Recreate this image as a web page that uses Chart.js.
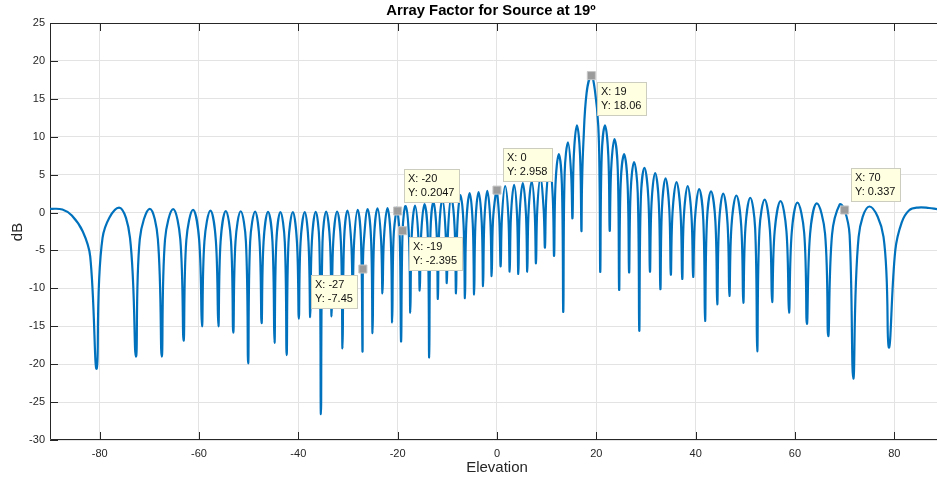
<!DOCTYPE html>
<html>
<head>
<meta charset="utf-8">
<title>Array Factor for Source at 19º</title>
<script src="https://cdn.jsdelivr.net/npm/chart.js@4.4.1/dist/chart.umd.min.js"></script>
<style>
  html, body { margin: 0; padding: 0; background: #fff; }
  #wrap { width: 937px; height: 482px; }
</style>
</head>
<body>
<div id="wrap"><canvas id="afChart" width="937" height="482"></canvas></div>
<script>
// axis ticks
const xTicks = [-80, -60, -40, -20, 0, 20, 40, 60, 80];
const yTicks = [-30, -25, -20, -15, -10, -5, 0, 5, 10, 15, 20, 25];

// array factor trace, elevation in degrees and level in dB
// (one row per lobe: null, rising knee, peak, falling knee)
const elevation = [
  -90, -87.5, -85.6, -83.4, -81.9,
  -80.6, -79.42, -76.1, -73.89,
  -72.7, -71.92, -69.9, -68.28,
  -67.5, -66.84, -65.2, -63.76,
  -63.1, -62.55, -61.2, -59.96,
  -59.4, -58.9, -57.7, -56.6,
  -56.1, -55.65, -54.6, -53.55,
  -53.1, -52.65, -51.6, -50.55,
  -50.1, -49.7, -48.7, -47.8,
  -47.4, -47.0, -46.1, -45.2,
  -44.8, -44.43, -43.6, -42.72,
  -42.35, -41.98, -41.1, -40.27,
  -39.9, -39.55, -38.7, -37.95,
  -37.6, -37.28, -36.5, -35.77,
  -35.45, -35.13, -34.4, -33.62,
  -33.3, -32.97, -32.2, -31.43,
  -31.1, -30.79, -30.1, -29.36,
  -29.05, -28.75, -28.05, -27.38,
  -27.08, -27, -26.78, -26.05, -25.35,
  -25.05, -24.75, -24.05, -23.35,
  -23.05, -22.76, -22.05, -21.39,
  -21.1, -20.83, -20.2, -20, -19.57,
  -19.3, -19, -18.4, -17.73,
  -17.45, -17.17, -16.5, -15.84,
  -15.55, -15.27, -14.6, -13.94,
  -13.65, -13.39, -12.8, -12.16,
  -11.9, -11.63, -11.0, -10.37,
  -10.1, -9.82, -9.2, -8.53,
  -8.25, -7.98, -7.35, -6.72,
  -6.45, -6.17, -5.5, -4.88,
  -4.6, -4.33, -3.7, -3.07,
  -2.8, -2.54, -1.95, -1.33,
  -1.07, -0.8, -0.15, 0, 0.47,
  0.74, 1.01, 1.65, 2.29,
  2.56, 2.82, 3.45, 4.04,
  4.3, 4.57, 5.2, 5.83,
  6.1, 6.36, 7.0, 7.59,
  7.85, 8.12, 8.75, 9.39,
  9.66, 9.94, 10.6, 11.22,
  11.5, 11.78, 12.45, 13.07,
  13.35, 13.63, 14.3, 14.92,
  15.2, 15.47, 16.1, 16.73,
  17.0, 17.12, 17.4, 18.05, 19, 19.7, 20.4, 20.66,
  20.8, 21.09, 21.75, 22.42,
  22.7, 22.99, 23.65, 24.32,
  24.6, 24.9, 25.6, 26.3,
  26.6, 26.91, 27.6, 28.34,
  28.65, 28.97, 29.7, 30.48,
  30.8, 31.12, 31.85, 32.59,
  32.9, 33.22, 33.95, 34.69,
  35.0, 35.35, 36.15, 36.96,
  37.3, 37.63, 38.4, 39.17,
  39.5, 39.86, 40.7, 41.54,
  41.9, 42.27, 43.1, 43.98,
  44.35, 44.72, 45.55, 46.43,
  46.8, 47.22, 48.2, 49.18,
  49.6, 50.02, 51.0, 51.98,
  52.4, 52.85, 53.9, 54.95,
  55.4, 55.91, 57.1, 58.29,
  58.8, 59.34, 60.5, 61.86,
  62.4, 63.05, 64.4, 66.06,
  66.7, 67.46, 69.0, 70, 71.0,
  71.75, 72.82, 75.0, 77.83,
  78.9, 80.2, 81.5, 83.0, 84.8, 87.0, 88.6
];
const levelDb = [
  0.5, 0.4, -0.4, -2.5, -5.8,
  -20.6, -3.34, 0.66, -3.34,
  -19.0, -3.51, 0.49, -3.51,
  -19.0, -3.56, 0.44, -3.56,
  -16.9, -3.65, 0.35, -3.65,
  -15.0, -3.74, 0.26, -3.74,
  -15.0, -3.8, 0.2, -3.8,
  -15.85, -3.83, 0.17, -3.83,
  -19.9, -3.87, 0.13, -3.87,
  -14.6, -3.9, 0.1, -3.9,
  -17.2, -3.94, 0.06, -3.94,
  -18.8, -3.95, 0.05, -3.95,
  -14.0, -3.95, 0.05, -3.95,
  -13.8, -3.91, 0.09, -3.91,
  -26.6, -3.88, 0.12, -3.88,
  -13.7, -3.86, 0.14, -3.86,
  -17.9, -3.75, 0.25, -3.75,
  -10.5, -3.65, 0.35, -3.65,
  -18.3, -7.45, -3.55, 0.45, -3.55,
  -15.9, -3.45, 0.55, -3.45,
  -10.65, -3.42, 0.58, -3.42,
  -14.5, -3.4, 0.6, 0.2047, -3.4,
  -17.0, -2.395, 0.85, -3.15,
  -13.2, -3.1, 0.9, -3.1,
  -10.3, -2.9, 1.1, -2.9,
  -19.1, -2.55, 1.45, -2.55,
  -11.4, -2.23, 1.77, -2.23,
  -9.3, -1.97, 2.03, -1.97,
  -10.65, -1.7, 2.3, -1.7,
  -11.3, -1.45, 2.55, -1.45,
  -10.8, -1.3, 2.7, -1.3,
  -9.7, -1.13, 2.87, -1.13,
  -8.4, -1.0, 3.0, 2.958, -1.0,
  -7.1, -0.5, 3.5, -0.5,
  -7.8, -0.34, 3.66, -0.34,
  -8.1, -0.1, 3.9, -0.1,
  -7.8, 0.1, 4.1, 0.1,
  -6.7, 0.5, 4.5, 0.5,
  -4.6, 2.2, 6.2, 2.2,
  -5.7, 3.7, 7.7, 3.7,
  -13.1, 5.25, 9.25, 5.25,
  -0.74, 7.5, 11.5, 7.5,
  -2.4, 3.5, 9.2, 15.8, 18.06, 16.2, 11.4, 4.0,
  -7.8, 7.5, 11.5, 7.5,
  -2.4, 5.7, 9.7, 5.7,
  -10.2, 3.7, 7.7, 3.7,
  -7.9, 2.65, 6.65, 2.65,
  -15.6, 1.9, 5.9, 1.9,
  -7.8, 1.2, 5.2, 1.2,
  -10.1, 0.5, 4.5, 0.5,
  -8.2, 0.0, 4.0, 0.0,
  -8.76, -0.5, 3.5, -0.5,
  -8.5, -0.9, 3.1, -0.9,
  -14.3, -1.2, 2.8, -1.2,
  -12.1, -1.5, 2.5, -1.5,
  -11.0, -1.75, 2.25, -1.75,
  -11.9, -2.05, 1.95, -2.05,
  -18.3, -2.3, 1.7, -2.3,
  -11.8, -2.5, 1.5, -2.5,
  -13.2, -2.7, 1.3, -2.7,
  -14.7, -2.8, 1.2, -2.8,
  -16.3, -2.95, 1.05, 0.337, -2.95,
  -21.9, -3.2, 0.8, -3.2,
  -17.8, -5.0, -1.3, 0.3, 0.66, 0.6, 0.45
];

// data tips
const tipElev = [-27, -20, -19, 0, 19, 70];
const tipDb = [-7.45, 0.2047, -2.395, 2.958, 18.06, 0.337];
const tipSide = ['sw', 'ne', 'se', 'ne', 'se', 'ne'];

const trace = elevation.map((x, i) => ({ x: x, y: levelDb[i] }));
const tips = tipElev.map((x, i) => ({ x: x, y: tipDb[i] }));

const axisColor = '#262626';
const fontFamily = '"Liberation Sans", Arial, Helvetica, sans-serif';
const tickLen = 8;

// box around the axes with inward tick marks
const axesBox = {
  id: 'axesBox',
  beforeDatasetsDraw(chart) {
    const { ctx, chartArea: a, scales: { x, y } } = chart;
    ctx.save();
    ctx.strokeStyle = axisColor;
    ctx.lineWidth = 1;
    ctx.beginPath();
    ctx.rect(a.left + 0.5, a.top + 0.5, a.right - a.left, a.bottom - a.top - 1);
    xTicks.forEach(v => {
      const px = Math.round(x.getPixelForValue(v)) + 0.5;
      ctx.moveTo(px, a.bottom);
      ctx.lineTo(px, a.bottom - tickLen);
      ctx.moveTo(px, a.top);
      ctx.lineTo(px, a.top + tickLen);
    });
    yTicks.forEach(v => {
      const py = Math.round(y.getPixelForValue(v)) + 0.5;
      ctx.moveTo(a.left, py);
      ctx.lineTo(a.left + tickLen, py);
    });
    ctx.stroke();
    ctx.restore();
  }
};

// yellow data tip boxes next to the gray markers
const dataTips = {
  id: 'dataTips',
  afterDatasetsDraw(chart) {
    const { ctx, scales: { x, y } } = chart;
    ctx.save();
    ctx.font = '11px ' + fontFamily;
    ctx.textBaseline = 'middle';
    tipElev.forEach((xv, i) => {
      const px = x.getPixelForValue(xv);
      const py = y.getPixelForValue(tipDb[i]);
      const lines = ['X: ' + xv, 'Y: ' + tipDb[i]];
      const w = Math.ceil(Math.max(...lines.map(t => ctx.measureText(t).width))) + 8;
      const h = 33;
      let bx, by;
      if (tipSide[i] === 'ne') { bx = px + 6; by = py - 9 - h; }
      else if (tipSide[i] === 'se') { bx = px + 6; by = py + 6; }
      else { bx = px - 6 - w; by = py + 6; }
      bx = Math.round(bx);
      by = Math.round(by);
      ctx.fillStyle = '#ffffe1';
      ctx.fillRect(bx, by, w, h);
      ctx.strokeStyle = '#cdcdbf';
      ctx.lineWidth = 1;
      ctx.strokeRect(bx + 0.5, by + 0.5, w, h);
      ctx.fillStyle = '#111';
      ctx.fillText(lines[0], bx + 4, by + 10);
      ctx.fillText(lines[1], bx + 4, by + 24);
    });
    ctx.restore();
  }
};

// title and axis labels
const labels = {
  id: 'labels',
  afterDraw(chart) {
    const { ctx } = chart;
    ctx.save();
    ctx.fillStyle = '#000';
    ctx.textAlign = 'center';
    ctx.textBaseline = 'middle';
    ctx.font = 'bold 14.8px ' + fontFamily;
    ctx.fillText('Array Factor for Source at 19º', 491, 11);
    ctx.fillStyle = axisColor;
    ctx.font = '15px ' + fontFamily;
    ctx.fillText('Elevation', 497, 468);
    ctx.translate(18, 232);
    ctx.rotate(-Math.PI / 2);
    ctx.fillText('dB', 0, 0);
    ctx.restore();
  }
};

const tickFont = { family: fontFamily, size: 11 };

new Chart(document.getElementById('afChart'), {
  type: 'line',
  data: {
    datasets: [
      {
        data: trace,
        borderColor: '#0072bd',
        borderWidth: 2.2,
        pointRadius: 0,
        tension: 0.4,
        fill: false,
        order: 1
      },
      {
        type: 'scatter',
        data: tips,
        pointStyle: 'rect',
        pointRadius: 5.7,
        backgroundColor: '#9b9b9b',
        borderColor: '#c6c6c6',
        borderWidth: 1,
        showLine: false,
        order: 0
      }
    ]
  },
  options: {
    responsive: false,
    animation: false,
    devicePixelRatio: 1,
    layout: { autoPadding: false, padding: { top: 23, right: 0, bottom: 0, left: 0 } },
    plugins: {
      legend: { display: false },
      tooltip: { enabled: false },
      title: { display: false }
    },
    scales: {
      x: {
        type: 'linear',
        min: -90,
        max: 88.6,
        afterBuildTicks: s => { s.ticks = xTicks.map(v => ({ value: v })); },
        afterFit: s => { s.height = 42; s.paddingLeft = 0; s.paddingRight = 0; },
        grid: { color: '#e3e3e3', drawTicks: false },
        border: { display: false },
        ticks: {
          padding: 7,
          color: axisColor,
          font: tickFont,
          maxRotation: 0,
          autoSkip: false,
          callback: v => String(v)
        }
      },
      y: {
        min: -30,
        max: 25,
        afterBuildTicks: s => { s.ticks = yTicks.map(v => ({ value: v })); },
        afterFit: s => { s.width = 50; s.paddingTop = 0; s.paddingBottom = 0; },
        grid: { color: '#e3e3e3', drawTicks: false },
        border: { display: false },
        ticks: {
          padding: 5,
          color: axisColor,
          font: tickFont,
          autoSkip: false,
          callback: v => String(v)
        }
      }
    }
  },
  plugins: [axesBox, dataTips, labels]
});
</script>
</body>
</html>
